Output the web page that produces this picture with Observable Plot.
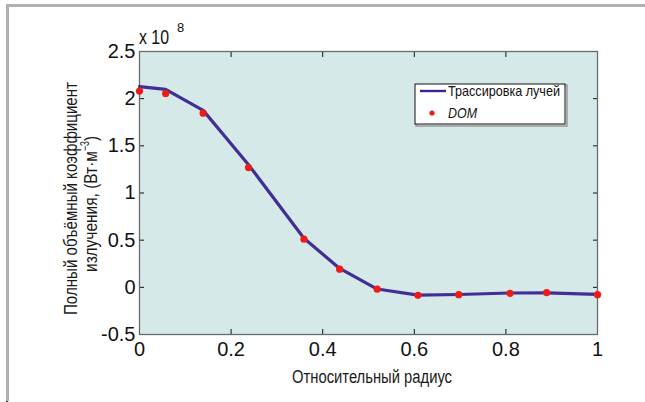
<!DOCTYPE html>
<html><head><meta charset="utf-8">
<script src="https://cdn.jsdelivr.net/npm/d3@7"></script>
<script src="https://cdn.jsdelivr.net/npm/@observablehq/plot@0.6"></script>
<style>
html,body{margin:0;padding:0;background:#fff;}
#chart{position:relative;width:645px;height:402px;}
</style></head>
<body><div id="chart"></div>
<script>
// Relative radius positions
const radius = [0, 0.057, 0.139, 0.238, 0.359, 0.437, 0.519, 0.608, 0.697, 0.809, 0.889, 1.0];
// Ray tracing (units of 1e8 W·m^-3)
const rayTracing = [2.128, 2.098, 1.876, 1.30, 0.52, 0.200, -0.018, -0.083, -0.076, -0.060, -0.058, -0.074];
// DOM (units of 1e8 W·m^-3)
const dom = [2.08, 2.055, 1.846, 1.27, 0.51, 0.193, -0.020, -0.085, -0.078, -0.063, -0.056, -0.078];
const xTicks = [0, 0.2, 0.4, 0.6, 0.8, 1];
const yTicks = [-0.5, 0, 0.5, 1, 1.5, 2, 2.5];
const xTitle = "Относительный радиус";
const yTitle1 = "Полный объёмный коэффициент";
const yTitle2 = "излучения, (Вт·м";
const seriesNames = ["Трассировка лучей", "DOM"];

const lineData = radius.map((r, i) => ({r, v: rayTracing[i]}));
const domData = radius.map((r, i) => ({r, v: dom[i]}));
const fmt = d => String(d);
const sans = "'Liberation Sans', Arial, sans-serif";

const plot = Plot.plot({
  width: 645, height: 402,
  marginLeft: 139, marginRight: 48, marginTop: 51, marginBottom: 68,
  style: {fontFamily: sans, fontSize: "20px", color: "#111", background: "transparent"},
  x: {domain: [0, 1], label: null},
  y: {domain: [-0.5, 2.5], label: null},
  marks: [
    Plot.frame({fill: "#d5eae8", stroke: "none"}),
    Plot.axisX(xTicks, {anchor: "bottom", tickSize: -5, tickPadding: 12, tickFormat: fmt, label: null, fontSize: 20, stroke: "#111"}),
    Plot.axisX(xTicks, {anchor: "top", tickSize: -5, tickFormat: () => "", label: null, stroke: "#111"}),
    Plot.axisY(yTicks, {anchor: "left", tickSize: -5, tickPadding: 9, tickFormat: fmt, label: null, fontSize: 20, stroke: "#111"}),
    Plot.axisY(yTicks, {anchor: "right", tickSize: -5, tickFormat: () => "", label: null, stroke: "#111"}),
    Plot.frame({stroke: "#6b6b6b", strokeWidth: 1.3}),
    Plot.line(lineData, {x: "r", y: "v", stroke: "#3a2590", strokeWidth: 3.2, strokeOpacity: 0.95}),
    Plot.dot(domData, {x: "r", y: "v", r: 3.6, fill: "#f01c14", stroke: "none"})
  ]
});

const chart = document.getElementById("chart");
chart.appendChild(plot);
const svg = d3.select(plot);
svg.style("position", "absolute").style("left", "0px").style("top", "0px").style("overflow", "visible");

function txt(parent, x, y, s, size, opts = {}) {
  const t = parent.append("text").attr("x", x).attr("y", y)
    .attr("text-anchor", opts.anchor || "start")
    .attr("font-family", sans).attr("font-size", size).attr("fill", opts.fill || "#1a1a1a")
    .attr("stroke", "none").text(s);
  if (opts.len) t.attr("textLength", opts.len).attr("lengthAdjust", "spacingAndGlyphs");
  if (opts.italic) t.attr("font-style", "italic");
  return t;
}

// outer figure frame
svg.insert("path", ":first-child")
  .attr("d", "M7.5,401 V5.5 H645")
  .attr("fill", "none").attr("stroke", "#b0b0b0").attr("stroke-width", 3);
svg.insert("path", ":first-child")
  .attr("d", "M7,402 V5 H645")
  .attr("fill", "none").attr("stroke", "#111").attr("stroke-width", 1.6);

// exponent
txt(svg, 139, 44, "x 10", 20, {len: 30, fill: "#111"});
txt(svg, 177, 32, "8", 13, {fill: "#111"});

// x title
txt(svg, 292, 383, xTitle, 18, {len: 160});

// y title (rotated)
const yt = svg.append("g").attr("transform", "translate(0,198) rotate(-90)");
txt(yt, -117, 77, yTitle1, 18, {len: 233});
txt(yt, -74, 97, yTitle2, 18, {len: 121});
txt(yt, 47, 89, "−3", 12, {len: 10});
txt(yt, 57, 97, ")", 18, {len: 5});

// legend
const lg = svg.append("g");
lg.append("rect").attr("x", 416).attr("y", 85).attr("width", 151).attr("height", 41)
  .attr("fill", "none").attr("stroke", "#999").attr("stroke-width", 1.5);
lg.append("rect").attr("x", 415).attr("y", 84).attr("width", 150).attr("height", 40)
  .attr("fill", "#fff").attr("stroke", "#111").attr("stroke-width", 1);
lg.append("line").attr("x1", 420).attr("x2", 446).attr("y1", 91).attr("y2", 91)
  .attr("stroke", "#3a2590").attr("stroke-width", 2.4);
txt(lg, 448, 96, seriesNames[0], 15, {len: 112, fill: "#111"});
lg.append("circle").attr("cx", 432).attr("cy", 113).attr("r", 2.6).attr("fill", "#f01c14").attr("stroke", "none");
txt(lg, 448, 118, seriesNames[1], 14, {len: 29, fill: "#111", italic: true});
</script></body></html>
